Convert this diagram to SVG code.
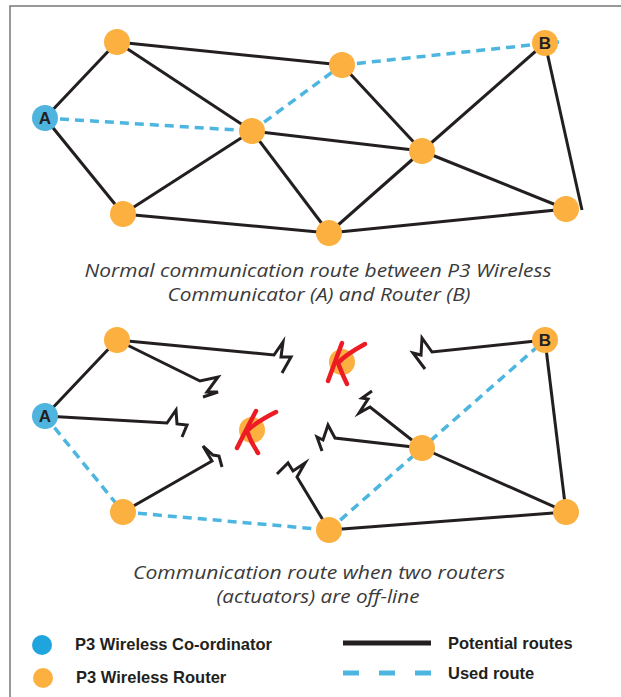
<svg xmlns="http://www.w3.org/2000/svg" width="621" height="697" viewBox="0 0 621 697">
<style>
.bk{fill:none;stroke:#231F20;stroke-width:3;stroke-linejoin:miter;stroke-miterlimit:6}
.bl{fill:none;stroke:#4DB6E0;stroke-width:3.5;stroke-dasharray:9 6}
.rt{fill:#FBB040}
.co{fill:#4FB5DF}
.lbl{font-family:"Liberation Sans",Arial,sans-serif;font-weight:bold;font-size:17px;fill:#231F20;text-anchor:middle}
.cap{font-family:"Open Sans","Liberation Sans",sans-serif;font-style:italic;font-weight:400;font-size:19px;fill:#3a3a3a;text-anchor:middle}
.leg{font-family:"Liberation Sans",Arial,sans-serif;font-weight:bold;font-size:16.5px;fill:#231F20}
.x{fill:none;stroke:#ED1C24;stroke-width:4.5;stroke-linecap:round;stroke-linejoin:round}
</style>
<path d="M10,697 V6 H621" fill="none" stroke="#777" stroke-width="1.5"/>

<g id="connectors">
  <!-- top network -->
  <line class="bk" x1="45" y1="118" x2="117" y2="42"/>
  <line class="bk" x1="45" y1="118" x2="123" y2="214"/>
  <line class="bk" x1="117" y1="42" x2="252" y2="131"/>
  <line class="bk" x1="117" y1="42" x2="342" y2="65"/>
  <line class="bk" x1="123" y1="214" x2="252" y2="131"/>
  <line class="bk" x1="123" y1="214" x2="329" y2="233"/>
  <line class="bk" x1="252" y1="131" x2="422" y2="151"/>
  <line class="bk" x1="252" y1="131" x2="329" y2="233"/>
  <line class="bk" x1="342" y1="65" x2="422" y2="151"/>
  <line class="bk" x1="422" y1="151" x2="545" y2="43"/>
  <line class="bk" x1="422" y1="151" x2="329" y2="233"/>
  <line class="bk" x1="422" y1="151" x2="566" y2="209"/>
  <line class="bk" x1="329" y1="233" x2="566" y2="209"/>
  <line class="bk" x1="545" y1="43" x2="582" y2="210"/>
  <line class="bl" x1="45" y1="118" x2="252" y2="131"/>
  <line class="bl" x1="252" y1="131" x2="342" y2="65"/>
  <line class="bl" x1="342" y1="65" x2="559" y2="42"/>
  <!-- bottom network -->
  <line class="bk" x1="45" y1="416" x2="117" y2="340"/>
  <path class="bk" d="M117,340 L274,355 L283,342 L281,357 L291,357 L282,373"/>
  <path class="bk" d="M117,340 L200,381 L218,377 L207,392 L218,392 L203,397"/>
  <path class="bk" d="M45,416 L167,423 L176,410 L177,424 L187,425 L182,437"/>
  <path class="bk" d="M123,512 L212,461 L203,446 L213,455 L219,456 L222,467"/>
  <path class="bk" d="M329,530 L297,477 L305,463 L293,471 L288,463 L277,474"/>
  <path class="bk" d="M422,448 L335,438 L328,425 L323,440 L317,437 L322,451"/>
  <path class="bk" d="M422,448 L370,407 L359,413 L368,399 L362,398 L372,391"/>
  <path class="bk" d="M545,340 L432,352 L422,338 L421,355 L413,353 L425,369"/>
  <line class="bk" x1="329" y1="530" x2="566" y2="512"/>
  <line class="bk" x1="422" y1="448" x2="566" y2="512"/>
  <line class="bk" x1="545" y1="340" x2="566" y2="512"/>
  <line class="bl" x1="45" y1="416" x2="123" y2="512"/>
  <line class="bl" x1="123" y1="512" x2="329" y2="530"/>
  <line class="bl" x1="329" y1="530" x2="545" y2="340"/>
</g>

<!-- top nodes -->
<g id="top-A"><circle class="co" cx="45" cy="118" r="13"/><text class="lbl" x="45" y="124">A</text></g>
<g id="top-r1"><circle class="rt" cx="117" cy="42" r="13"/></g>
<g id="top-r2"><circle class="rt" cx="123" cy="214" r="13"/></g>
<g id="top-r3"><circle class="rt" cx="252" cy="131" r="13"/></g>
<g id="top-r4"><circle class="rt" cx="342" cy="65" r="13"/></g>
<g id="top-r5"><circle class="rt" cx="422" cy="151" r="13"/></g>
<g id="top-r6"><circle class="rt" cx="329" cy="233" r="13"/></g>
<g id="top-B"><circle class="rt" cx="545" cy="43" r="13"/><text class="lbl" x="545" y="49">B</text></g>
<g id="top-r7"><circle class="rt" cx="566" cy="209" r="13"/></g>

<g id="caption-top">
  <text class="cap" x="318" y="277" textLength="467" lengthAdjust="spacingAndGlyphs">Normal communication route between P3 Wireless</text>
  <text class="cap" x="319" y="301" textLength="303" lengthAdjust="spacingAndGlyphs">Communicator (A) and Router (B)</text>
</g>

<!-- bottom nodes -->
<g id="bot-A"><circle class="co" cx="45" cy="416" r="13"/><text class="lbl" x="45" y="422">A</text></g>
<g id="bot-r1"><circle class="rt" cx="117" cy="340" r="13"/></g>
<g id="bot-r2"><circle class="rt" cx="123" cy="512" r="13"/></g>
<g id="bot-r3-offline"><circle class="rt" cx="252" cy="430" r="13"/>
  <path class="x" d="M256,411 Q246,430 237,448"/>
  <path class="x" d="M276,412 C264,418 253,425 247,431 C250,440 254,447 258,453"/>
</g>
<g id="bot-r4-offline"><circle class="rt" cx="342" cy="362" r="13"/>
  <path class="x" d="M342,343 Q335,362 328,381"/>
  <path class="x" d="M365,344 C354,350 344,356 338,363 C341,371 344,378 347,384"/>
</g>
<g id="bot-r5"><circle class="rt" cx="422" cy="448" r="13"/></g>
<g id="bot-r6"><circle class="rt" cx="329" cy="530" r="13"/></g>
<g id="bot-B"><circle class="rt" cx="545" cy="340" r="13"/><text class="lbl" x="545" y="346">B</text></g>
<g id="bot-r7"><circle class="rt" cx="566" cy="512" r="13"/></g>

<g id="caption-bottom">
  <text class="cap" x="319" y="579" textLength="372" lengthAdjust="spacingAndGlyphs">Communication route when two routers</text>
  <text class="cap" x="318" y="603" textLength="203" lengthAdjust="spacingAndGlyphs">(actuators) are off-line</text>
</g>

<g id="legend">
  <circle cx="42" cy="645" r="10" fill="#1FA4DE"/>
  <text class="leg" x="75" y="650">P3 Wireless Co-ordinator</text>
  <circle cx="43" cy="678" r="10" fill="#FBB040"/>
  <text class="leg" x="76" y="683">P3 Wireless Router</text>
  <line x1="343" y1="643" x2="431" y2="643" stroke="#231F20" stroke-width="5"/>
  <text class="leg" x="448" y="649">Potential routes</text>
  <line x1="343" y1="673" x2="431" y2="673" stroke="#4DB6E0" stroke-width="5" stroke-dasharray="16 20"/>
  <text class="leg" x="448" y="679">Used route</text>
</g>
</svg>
